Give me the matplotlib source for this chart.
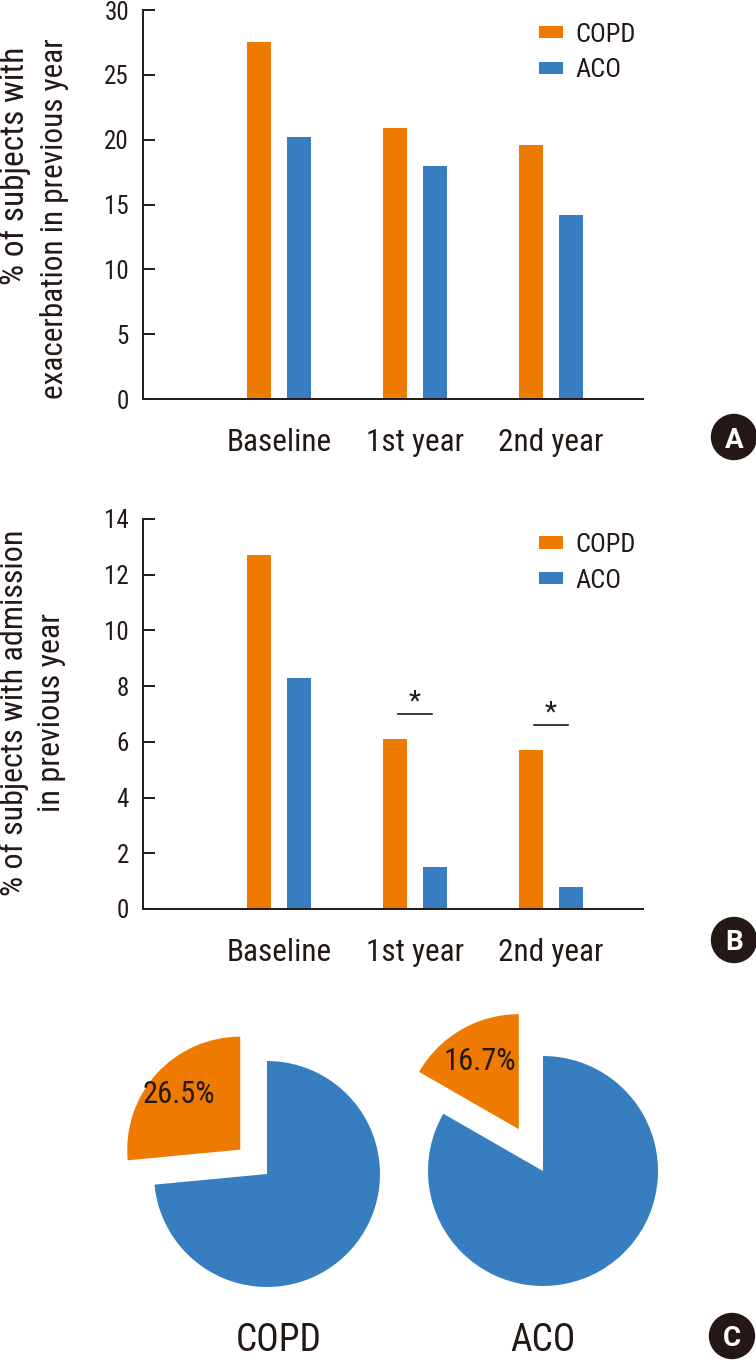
import matplotlib
matplotlib.use('Agg')
import matplotlib.pyplot as plt
import numpy as np
from matplotlib.patches import Circle

plt.rcParams['font.family'] = ['Roboto Condensed', 'DejaVu Sans']

# ---------------- data ----------------
categories = ['Baseline', '1st year', '2nd year']
series_names = ['COPD', 'ACO']
exacerbation_copd = [27.5, 20.9, 19.6]
exacerbation_aco = [20.2, 18.0, 14.2]
admission_copd = [12.7, 6.1, 5.7]
admission_aco = [8.3, 1.5, 0.8]
sig_categories = ['1st year', '2nd year']
sig_levels = [7.0, 6.6]
pie_groups = ['COPD', 'ACO']
pie_exacerbation_pct = [26.5, 16.7]

ORANGE = '#EE7A00'
BLUE = '#377EC1'
DARK = '#231815'

W, H, DPI = 756, 1360, 100
fig = plt.figure(figsize=(W / DPI, H / DPI), dpi=DPI)


def px_axes(left, top, right, bottom):
    return fig.add_axes([left / W, 1 - bottom / H, (right - left) / W, (bottom - top) / H])


def bar_panel(ax, copd, aco, ymax, ystep, label_lines, label_pos, legend_y):
    x = np.arange(1, len(categories) + 1)
    ax.bar(x - 0.147, copd, width=0.176, color=ORANGE, label=series_names[0])
    ax.bar(x + 0.147, aco, width=0.176, color=BLUE, label=series_names[1])
    ax.set_xlim(0, 3.676)
    ax.set_ylim(0, ymax)
    ax.set_yticks(np.arange(0, ymax + 0.01, ystep))
    ax.set_xticks(x)
    ax.set_xticklabels(categories)
    ax.tick_params(axis='x', length=0, pad=21, labelsize=22.5, colors=DARK)
    ax.tick_params(axis='y', direction='in', length=8.6, width=1.4, pad=10,
                   labelsize=18, colors=DARK)
    for s in ['top', 'right']:
        ax.spines[s].set_visible(False)
    for s in ['left', 'bottom']:
        ax.spines[s].set_linewidth(1.4)
        ax.spines[s].set_color(DARK)
    for line, (lx, ly, fs) in zip(label_lines, label_pos):
        ax.text(lx, ly, line, rotation=90, ha='center', va='center',
                transform=ax.transAxes, fontsize=fs, color=DARK)
    ax.legend(loc='upper left', bbox_to_anchor=(0.792, legend_y), frameon=False,
              fontsize=19, handlelength=0.92, handleheight=0.33,
              handletextpad=0.46, labelspacing=0.44, borderpad=0,
              borderaxespad=0, labelcolor=DARK)
    return x


def panel_badge(cx, cy, letter):
    fig.add_artist(Circle((cx / DPI, (H - cy) / DPI), 0.225,
                          transform=fig.dpi_scale_trans, color=DARK))
    fig.text(cx / W, 1 - cy / H, letter, ha='center', va='center_baseline',
             color='white', fontsize=20, fontweight='bold',
             family=['Roboto', 'DejaVu Sans'])


# ---------------- panel A ----------------
axA = px_axes(143, 10, 643, 399)
bar_panel(axA, exacerbation_copd, exacerbation_aco, 30, 5,
          ['% of subjects with', 'exacerbation in previous year'],
          [(-0.257, 0.60, 24), (-0.176, 0.463, 22.5)], 0.967)
panel_badge(734, 437, 'A')

# ---------------- panel B ----------------
axB = px_axes(143, 519, 643, 909)
xB = bar_panel(axB, admission_copd, admission_aco, 14, 2,
               ['% of subjects with admission', 'in previous year'],
               [(-0.257, 0.504, 23), (-0.182, 0.504, 23)], 0.964)
for cat, lvl in zip(sig_categories, sig_levels):
    xc = xB[categories.index(cat)]
    axB.plot([xc - 0.125, xc + 0.125], [lvl, lvl], color=DARK, lw=1.2)
    axB.text(xc, lvl + 0.18, '*', ha='center', va='baseline', fontsize=20, color=DARK)
panel_badge(734, 940, 'B')


# ---------------- panel C ----------------
def pie_panel(cx, cy, r, pct, explode, pctdist, name, name_dx):
    half = 175
    ax = px_axes(cx - half, cy - half, cx + half, cy + half)
    ax.pie([pct, 100 - pct], colors=[ORANGE, BLUE], startangle=90,
           counterclock=True, explode=[explode, 0],
           autopct=lambda p: f'{p:.1f}%' if p < 50 else '',
           pctdistance=pctdist, textprops={'fontsize': 22, 'color': DARK},
           wedgeprops={'clip_on': False, 'linewidth': 0})
    ax.set_xlim(-half / r, half / r)
    ax.set_ylim(-half / r, half / r)
    ax.axis('off')
    ax.text(name_dx, -(1351 - cy) / r, name, ha='center', va='baseline',
            fontsize=27, color=DARK, clip_on=False)


pie_panel(267, 1174, 113, pie_exacerbation_pct[0], 0.32, 0.73, pie_groups[0], 0.1)
pie_panel(543, 1171, 115, pie_exacerbation_pct[1], 0.42, 0.68, pie_groups[1], 0.0)
panel_badge(732, 1336, 'C')

fig.savefig('out.png', dpi=DPI)
